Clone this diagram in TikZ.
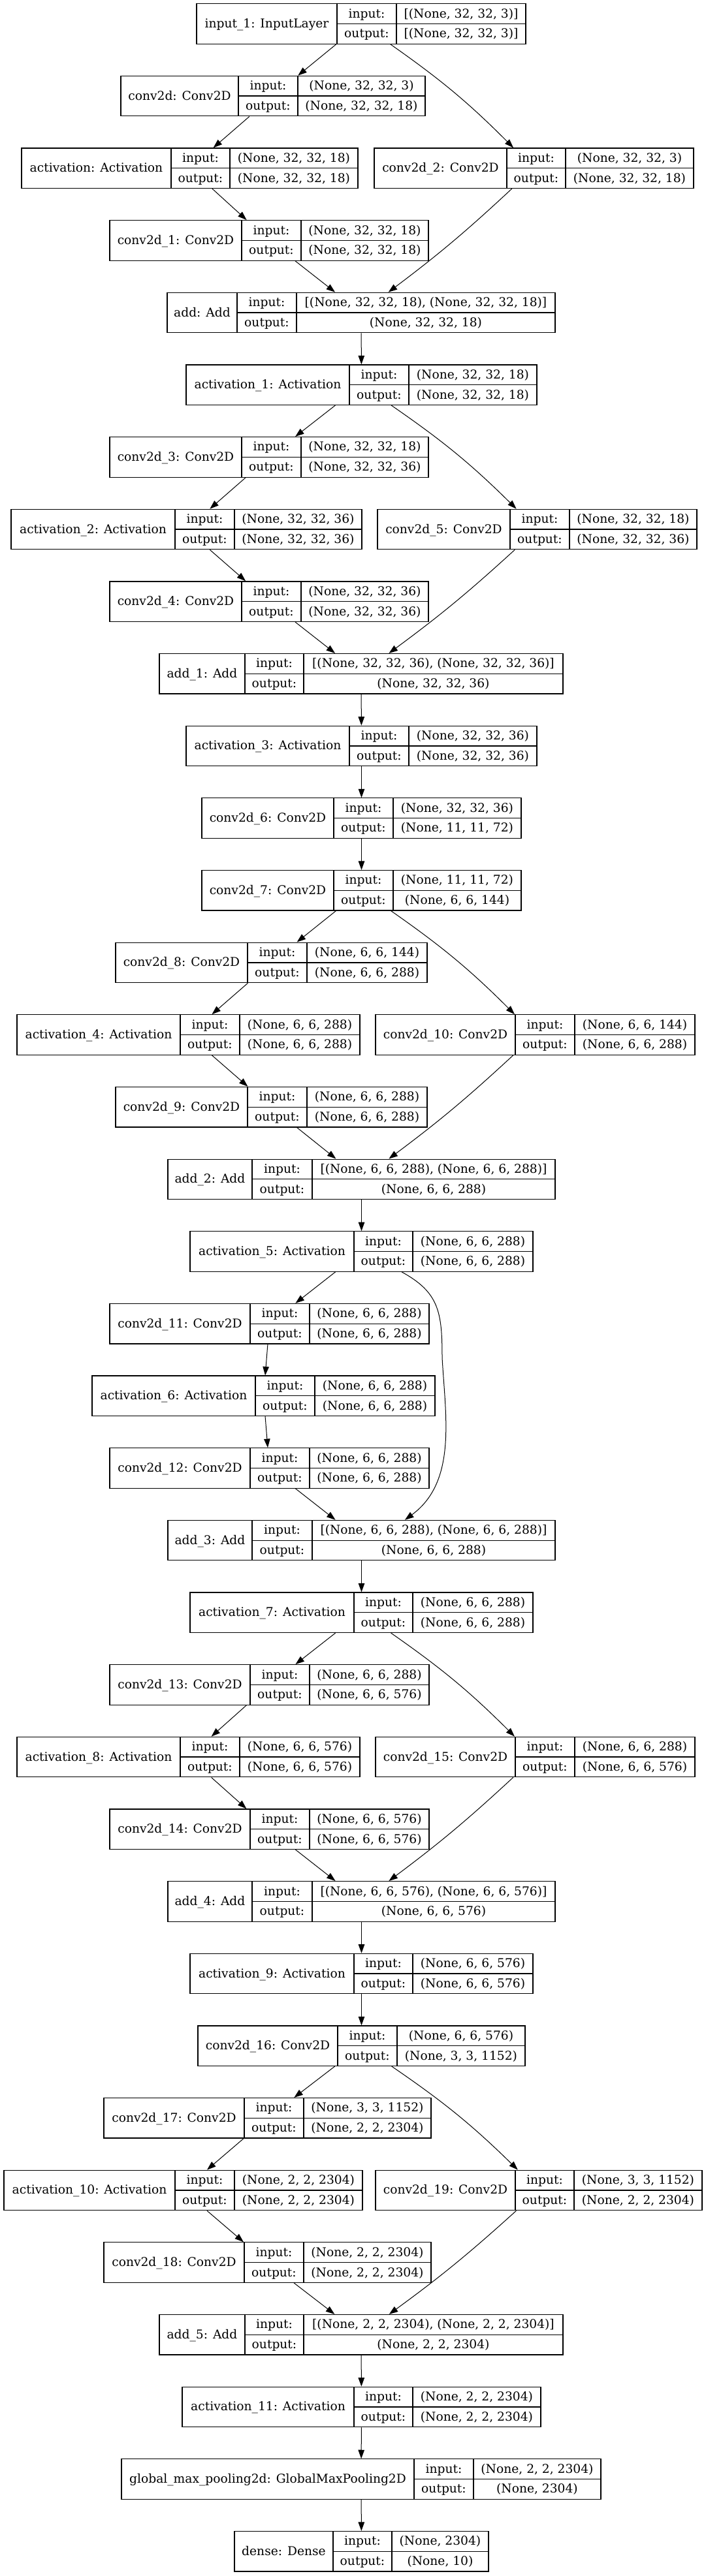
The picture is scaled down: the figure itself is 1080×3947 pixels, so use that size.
\documentclass[tikz,border=0pt]{standalone}
\usepackage{fontspec}
\setmainfont{DejaVu Serif}
\usepackage{tikz}
\usetikzlibrary{arrows.meta}
\tikzset{
  >={Triangle[length=13.5pt,width=9.5pt]},
  layer box/.style={
    rectangle,
    draw=black,
    line width=1.2pt,
    minimum height=61.5pt,
    inner sep=0pt
  },
  cell rule/.style={
    draw=black,
    line width=1.2pt
  },
  cell text/.style={
    inner sep=0pt,
    text height=14pt,
    text depth=2pt,
    font=\fontsize{18.67pt}{22pt}\selectfont
  },
  connection/.style={
    draw=black,
    line width=1pt,
    ->
  }
}
\newcommand{\layer}[9]{%
  \pgfmathsetmacro{\ytop}{5.7+110.65*#2}
  \pgfmathsetmacro{\ymid}{\ytop+30.75}
  \pgfmathsetmacro{\ybot}{\ytop+61.5}
  \node[layer box,minimum width={(#6)-(#3)}] (#1) at ({(#3+#6)/2},\ymid) {};
  \draw[cell rule] (#4,\ytop) -- (#4,\ybot) (#5,\ytop) -- (#5,\ybot)
    (#4,\ymid) -- (#6,\ymid);
  \node[cell text] (#1-name) at ({(#3+#4)/2},\ymid) {#7};
  \node[cell text] (#1-ik) at ({(#4+#5)/2},{\ytop+15.375}) {input:};
  \node[cell text] (#1-ok) at ({(#4+#5)/2},{\ymid+15.375}) {output:};
  \node[cell text] (#1-iv) at ({(#5+#6)/2},{\ytop+15.375}) {#8};
  \node[cell text] (#1-ov) at ({(#5+#6)/2},{\ymid+15.375}) {#9};
}
\newcommand{\chain}[1]{%
  \foreach \a/\b in {#1}{
    \draw[connection] (\a) -- (\b);
  }
}
\newcommand{\skipedge}[3]{%
  \draw[connection] (#1) to[bend left=#3] (#2);
}

\begin{document}
\begin{tikzpicture}[x=1pt,y=-1pt]
  \useasboundingbox (0,0) rectangle (1080,3947);

  \layer{input-1}{0}{301}{516}{607}{805}{input\_1: InputLayer}{[(None, 32, 32, 3)]}{[(None, 32, 32, 3)]}
  \layer{conv2d-0}{1}{185}{365}{456}{651}{conv2d: Conv2D}{(None, 32, 32, 3)}{(None, 32, 32, 18)}
  \layer{act-0}{2}{33}{262}{352}{548}{activation: Activation}{(None, 32, 32, 18)}{(None, 32, 32, 18)}
  \layer{conv2d-2}{2}{573}{776}{866}{1062}{conv2d\_2: Conv2D}{(None, 32, 32, 3)}{(None, 32, 32, 18)}
  \layer{conv2d-1}{3}{168}{370}{461}{656}{conv2d\_1: Conv2D}{(None, 32, 32, 18)}{(None, 32, 32, 18)}
  \layer{add-0}{4}{256}{363}{454}{850}{add: Add}{[(None, 32, 32, 18), (None, 32, 32, 18)]}{(None, 32, 32, 18)}

  \layer{act-1}{5}{285}{535}{626}{822}{activation\_1: Activation}{(None, 32, 32, 18)}{(None, 32, 32, 18)}
  \layer{conv2d-3}{6}{168}{370}{461}{656}{conv2d\_3: Conv2D}{(None, 32, 32, 18)}{(None, 32, 32, 36)}
  \layer{act-2}{7}{17}{268}{359}{554}{activation\_2: Activation}{(None, 32, 32, 36)}{(None, 32, 32, 36)}
  \layer{conv2d-5}{7}{578}{781}{872}{1067}{conv2d\_5: Conv2D}{(None, 32, 32, 18)}{(None, 32, 32, 36)}
  \layer{conv2d-4}{8}{168}{370}{461}{656}{conv2d\_4: Conv2D}{(None, 32, 32, 36)}{(None, 32, 32, 36)}
  \layer{add-1}{9}{244}{375}{465}{862}{add\_1: Add}{[(None, 32, 32, 36), (None, 32, 32, 36)]}{(None, 32, 32, 36)}

  \layer{act-3}{10}{285}{535}{626}{822}{activation\_3: Activation}{(None, 32, 32, 36)}{(None, 32, 32, 36)}
  \layer{conv2d-6}{11}{309}{511}{602}{798}{conv2d\_6: Conv2D}{(None, 32, 32, 36)}{(None, 11, 11, 72)}
  \layer{conv2d-7}{12}{309}{511}{602}{798}{conv2d\_7: Conv2D}{(None, 11, 11, 72)}{(None, 6, 6, 144)}
  \layer{conv2d-8}{13}{177}{379}{470}{654}{conv2d\_8: Conv2D}{(None, 6, 6, 144)}{(None, 6, 6, 288)}
  \layer{act-4}{14}{26}{276}{367}{551}{activation\_4: Activation}{(None, 6, 6, 288)}{(None, 6, 6, 288)}
  \layer{conv2d-10}{14}{575}{789}{880}{1064}{conv2d\_10: Conv2D}{(None, 6, 6, 144)}{(None, 6, 6, 288)}
  \layer{conv2d-9}{15}{177}{379}{470}{654}{conv2d\_9: Conv2D}{(None, 6, 6, 288)}{(None, 6, 6, 288)}
  \layer{add-2}{16}{257}{386}{478}{850}{add\_2: Add}{[(None, 6, 6, 288), (None, 6, 6, 288)]}{(None, 6, 6, 288)}

  \layer{act-5}{17}{291}{542}{632}{816}{activation\_5: Activation}{(None, 6, 6, 288)}{(None, 6, 6, 288)}
  \layer{conv2d-11}{18}{168}{383}{474}{657}{conv2d\_11: Conv2D}{(None, 6, 6, 288)}{(None, 6, 6, 288)}
  \layer{act-6}{19}{141}{391}{482}{666}{activation\_6: Activation}{(None, 6, 6, 288)}{(None, 6, 6, 288)}
  \layer{conv2d-12}{20}{168}{383}{474}{657}{conv2d\_12: Conv2D}{(None, 6, 6, 288)}{(None, 6, 6, 288)}
  \layer{add-3}{21}{257}{386}{478}{850}{add\_3: Add}{[(None, 6, 6, 288), (None, 6, 6, 288)]}{(None, 6, 6, 288)}

  \layer{act-7}{22}{291}{542}{632}{816}{activation\_7: Activation}{(None, 6, 6, 288)}{(None, 6, 6, 288)}
  \layer{conv2d-13}{23}{168}{383}{474}{657}{conv2d\_13: Conv2D}{(None, 6, 6, 288)}{(None, 6, 6, 576)}
  \layer{act-8}{24}{26}{276}{367}{551}{activation\_8: Activation}{(None, 6, 6, 576)}{(None, 6, 6, 576)}
  \layer{conv2d-15}{24}{575}{789}{880}{1064}{conv2d\_15: Conv2D}{(None, 6, 6, 288)}{(None, 6, 6, 576)}
  \layer{conv2d-14}{25}{168}{383}{474}{657}{conv2d\_14: Conv2D}{(None, 6, 6, 576)}{(None, 6, 6, 576)}
  \layer{add-4}{26}{257}{386}{478}{850}{add\_4: Add}{[(None, 6, 6, 576), (None, 6, 6, 576)]}{(None, 6, 6, 576)}

  \layer{act-9}{27}{291}{542}{632}{816}{activation\_9: Activation}{(None, 6, 6, 576)}{(None, 6, 6, 576)}
  \layer{conv2d-16}{28}{303}{517}{608}{804}{conv2d\_16: Conv2D}{(None, 6, 6, 576)}{(None, 3, 3, 1152)}
  \layer{conv2d-17}{29}{159}{374}{465}{660}{conv2d\_17: Conv2D}{(None, 3, 3, 1152)}{(None, 2, 2, 2304)}
  \layer{act-10}{30}{6}{268}{359}{555}{activation\_10: Activation}{(None, 2, 2, 2304)}{(None, 2, 2, 2304)}
  \layer{conv2d-19}{30}{575}{789}{879}{1075}{conv2d\_19: Conv2D}{(None, 3, 3, 1152)}{(None, 2, 2, 2304)}
  \layer{conv2d-18}{31}{159}{374}{465}{660}{conv2d\_18: Conv2D}{(None, 2, 2, 2304)}{(None, 2, 2, 2304)}
  \layer{add-5}{32}{244}{375}{465}{862}{add\_5: Add}{[(None, 2, 2, 2304), (None, 2, 2, 2304)]}{(None, 2, 2, 2304)}

  \layer{act-11}{33}{279}{542}{632}{828}{activation\_11: Activation}{(None, 2, 2, 2304)}{(None, 2, 2, 2304)}
  \layer{gmp}{34}{186}{634}{725}{920}{global\_max\_pooling2d: GlobalMaxPooling2D}{(None, 2, 2, 2304)}{(None, 2304)}
  \layer{dense}{35}{359}{510}{600}{748}{dense: Dense}{(None, 2304)}{(None, 10)}

  \chain{input-1/conv2d-0,conv2d-0/act-0,act-0/conv2d-1,conv2d-1/add-0,
    add-0/act-1,act-1/conv2d-3,conv2d-3/act-2,act-2/conv2d-4,conv2d-4/add-1,
    add-1/act-3,act-3/conv2d-6,conv2d-6/conv2d-7,conv2d-7/conv2d-8,
    conv2d-8/act-4,act-4/conv2d-9,conv2d-9/add-2,
    add-2/act-5,act-5/conv2d-11,conv2d-11/act-6,act-6/conv2d-12,conv2d-12/add-3,
    add-3/act-7,act-7/conv2d-13,conv2d-13/act-8,act-8/conv2d-14,conv2d-14/add-4,
    add-4/act-9,act-9/conv2d-16,conv2d-16/conv2d-17,conv2d-17/act-10,
    act-10/conv2d-18,conv2d-18/add-5,
    add-5/act-11,act-11/gmp,gmp/dense}

  \skipedge{input-1}{conv2d-2}{5}
  \skipedge{conv2d-2}{add-0}{3}
  \skipedge{act-1}{conv2d-5}{5}
  \skipedge{conv2d-5}{add-1}{3}
  \skipedge{conv2d-7}{conv2d-10}{5}
  \skipedge{conv2d-10}{add-2}{3}
  \skipedge{act-7}{conv2d-15}{5}
  \skipedge{conv2d-15}{add-4}{3}
  \skipedge{conv2d-16}{conv2d-19}{5}
  \skipedge{conv2d-19}{add-5}{3}

  \draw[connection] ([xshift=61.5pt]act-5.south)
    .. controls (672,1980) and (677,2010) .. (677,2080)
    .. controls (682,2170) and (700,2270) .. ([xshift=66.5pt]add-3.north);
\end{tikzpicture}
\end{document}
